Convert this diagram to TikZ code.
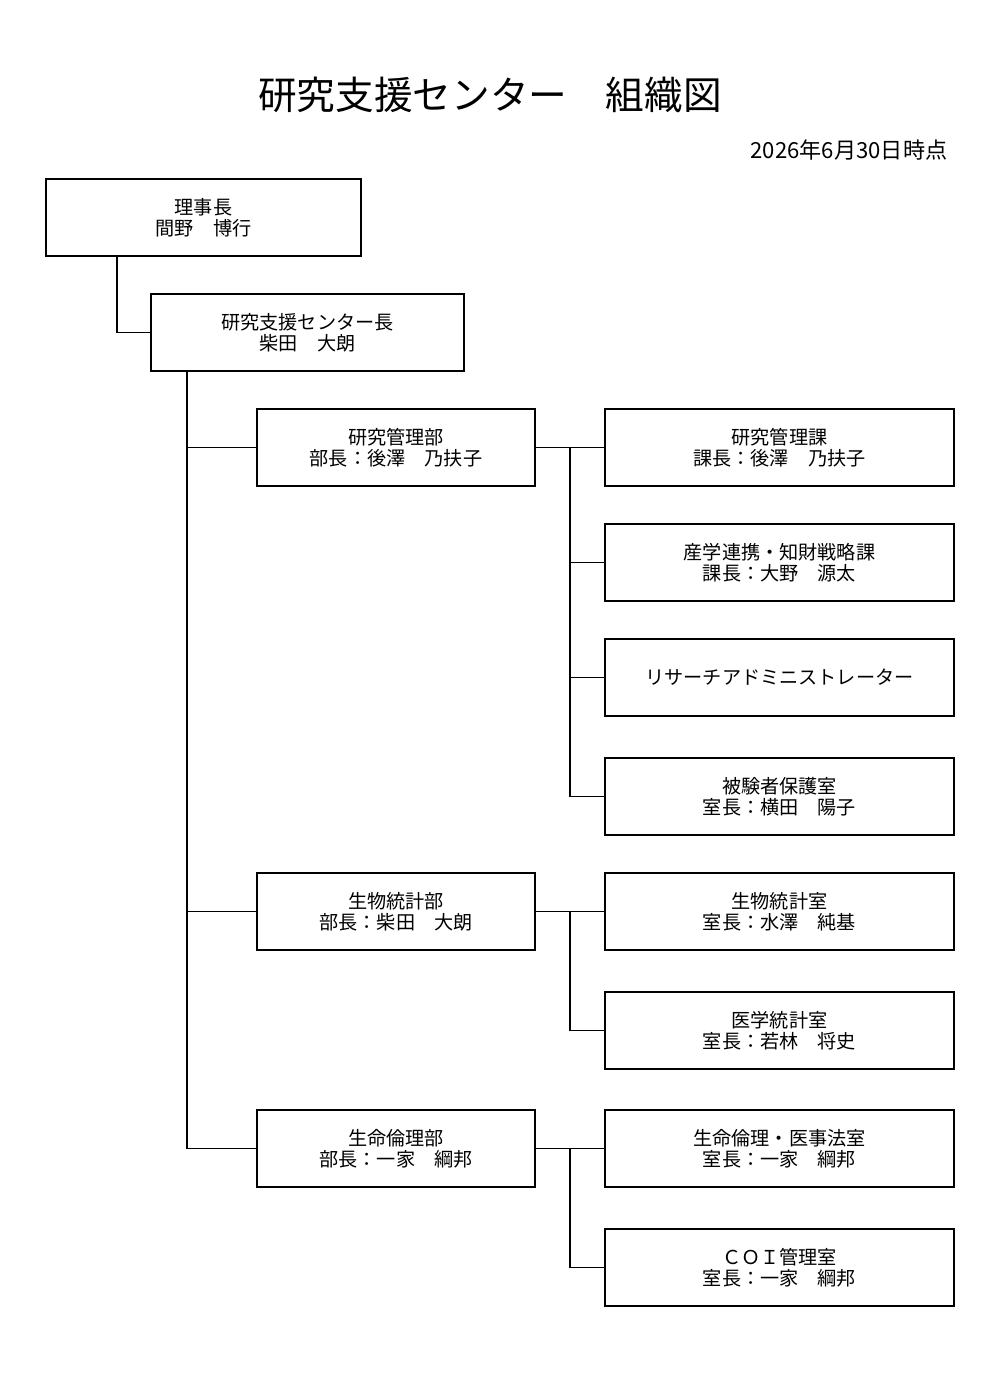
\documentclass[tikz,border=0pt]{standalone}
\usepackage{fontspec}
\setmainfont{Noto Sans CJK JP}
\begin{document}
\begin{tikzpicture}[x=0.02cm, y=-0.02cm, line width=0.8pt,
    unit/.style={draw, rectangle, minimum height=1.54cm, align=center, inner sep=0pt,
                 font=\fontsize{10.9pt}{12pt}\selectfont},
    dept/.style={unit, minimum width=5.56cm},
    sect/.style={unit, minimum width=6.98cm}]
    \useasboundingbox (0,0) rectangle (1000,1375);
    % title
    \node[font=\fontsize{22pt}{26pt}\selectfont] (title) at (490,95) {研究支援センター　組織図};
    \node[anchor=east, inner sep=0pt, font=\fontsize{12.6pt}{14pt}\selectfont] (date) at (948,150) {2026年6月30日時点};
    % top
    \node[unit, minimum width=6.3cm] (chair) at (203.5,217.5) {理事長\\間野　博行};
    \node[unit, minimum width=6.26cm] (head) at (307.5,332.5) {研究支援センター長\\柴田　大朗};
    % departments
    \node[dept] (kanri) at (396,447.5) {研究管理部\\部長：後澤　乃扶子};
    \node[dept] (toukei) at (396,911.5) {生物統計部\\部長：柴田　大朗};
    \node[dept] (rinri) at (396,1148.5) {生命倫理部\\部長：一家　綱邦};
    % sections
    \node[sect] (kanrika) at (779.5,447.5) {研究管理課\\課長：後澤　乃扶子};
    \node[sect] (sangaku) at (779.5,562.5) {産学連携・知財戦略課\\課長：大野　源太};
    \node[sect] (ura) at (779.5,677.5) {リサーチアドミニストレーター};
    \node[sect] (hikensha) at (779.5,796.5) {被験者保護室\\室長：横田　陽子};
    \node[sect] (seibutsu) at (779.5,911.5) {生物統計室\\室長：水澤　純基};
    \node[sect] (igaku) at (779.5,1030.5) {医学統計室\\室長：若林　将史};
    \node[sect] (ijihou) at (779.5,1148.5) {生命倫理・医事法室\\室長：一家　綱邦};
    \node[sect] (coi) at (779.5,1267.5) {ＣＯＩ管理室\\室長：一家　綱邦};
    % connectors
    \coordinate (stem) at (117,0);
    \coordinate (trunk) at (187,0);
    \coordinate (bus) at (570,0);
    \draw (chair.south -| stem) |- (head.west);
    \draw (head.south -| trunk) |- (rinri.west);
    \draw (trunk |- kanri.west) -- (kanri.west);
    \draw (trunk |- toukei.west) -- (toukei.west);
    \draw (kanri.east) -- (kanrika.west);
    \draw (bus |- kanri.east) |- (hikensha.west);
    \draw (bus |- sangaku.west) -- (sangaku.west);
    \draw (bus |- ura.west) -- (ura.west);
    \draw (toukei.east) -- (seibutsu.west);
    \draw (bus |- toukei.east) |- (igaku.west);
    \draw (rinri.east) -- (ijihou.west);
    \draw (bus |- rinri.east) |- (coi.west);
\end{tikzpicture}
\end{document}
